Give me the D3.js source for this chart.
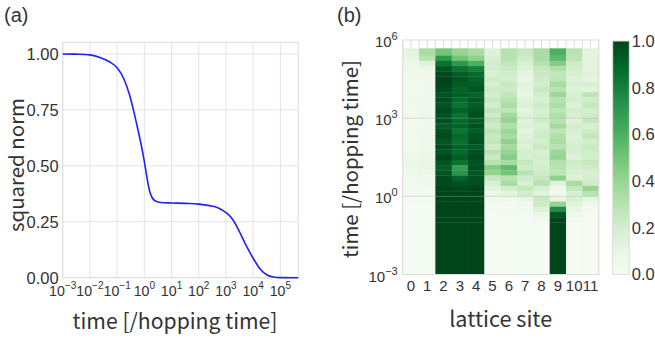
<!DOCTYPE html>
<html lang="en">
<head>
<meta charset="utf-8">
<title>Squared norm and lattice occupation</title>
<script src="https://cdn.jsdelivr.net/npm/d3@7"></script>
<style>
  body { margin: 0; background: #fff; }
  svg text { fill: #333; }
  .tk { font-family: "Liberation Sans", Arial, sans-serif; }
  .lab { font-family: "Noto Sans CJK JP", "Noto Sans", sans-serif; }
</style>
</head>
<body>
<script>
// ---- (a) squared norm vs time (time as log10 exponent) ----
var normExp = [-3, -2.5, -2, -1.6, -1.3, -1.0, -0.75, -0.55, -0.4, -0.25, -0.1, 0, 0.1, 0.2, 0.3, 0.42, 0.6, 1.0, 1.5, 2.0, 2.4, 2.7, 3.0, 3.25, 3.5, 3.75, 4.0, 4.25, 4.5, 4.75, 5.0, 5.66];
var normVal = [1.0, 0.999, 0.996, 0.983, 0.966, 0.938, 0.888, 0.82, 0.75, 0.67, 0.585, 0.52, 0.445, 0.385, 0.355, 0.342, 0.336, 0.334, 0.332, 0.329, 0.322, 0.313, 0.291, 0.26, 0.205, 0.142, 0.087, 0.04, 0.013, 0.003, 0.0005, 0];
var normTickExp = [-3, -2, -1, 0, 1, 2, 3, 4, 5];
var normTicks = [0, 0.25, 0.5, 0.75, 1.0];

// ---- (b) occupation per lattice site, rows from late to early time ----
var sites = [0, 1, 2, 3, 4, 5, 6, 7, 8, 9, 10, 11];
var rowEdgeExp = [5.68, 5.4, 5.2, 5.0, 4.8, 4.6, 4.4, 4.2, 4.0, 3.8, 3.6, 3.4, 3.2, 3.0, 2.8, 2.6, 2.4, 2.2, 2.0, 1.8, 1.6, 1.4, 1.2, 1.0, 0.8, 0.6, 0.4, 0.2, 0, -0.2, -0.4, -0.6, -0.8, -1, -3];
var occupancy = [
  [0.12,0.35,0.50,0.40,0.35,0.15,0.30,0.25,0.35,0.60,0.30,0.12],
  [0.10,0.30,0.70,0.50,0.42,0.18,0.30,0.22,0.35,0.55,0.28,0.12],
  [0.08,0.15,0.85,0.70,0.60,0.20,0.26,0.18,0.30,0.45,0.22,0.14],
  [0.06,0.08,0.95,0.85,0.80,0.20,0.24,0.15,0.25,0.32,0.20,0.12],
  [0.05,0.05,0.98,0.92,0.88,0.18,0.22,0.12,0.24,0.26,0.18,0.15],
  [0.05,0.05,1.00,0.95,0.90,0.22,0.20,0.10,0.22,0.28,0.16,0.12],
  [0.04,0.05,1.00,0.93,0.92,0.18,0.24,0.14,0.20,0.35,0.18,0.18],
  [0.05,0.06,0.98,0.90,0.95,0.22,0.22,0.12,0.24,0.30,0.15,0.14],
  [0.04,0.05,0.95,0.92,0.90,0.20,0.26,0.10,0.20,0.38,0.18,0.28],
  [0.05,0.06,0.97,0.88,0.94,0.24,0.30,0.14,0.18,0.30,0.20,0.22],
  [0.05,0.05,0.95,0.85,0.92,0.20,0.34,0.16,0.22,0.34,0.16,0.25],
  [0.04,0.06,0.98,0.90,0.95,0.26,0.28,0.12,0.18,0.28,0.20,0.20],
  [0.05,0.06,0.95,0.85,0.97,0.22,0.36,0.15,0.20,0.32,0.18,0.22],
  [0.04,0.05,0.97,0.88,0.93,0.25,0.40,0.14,0.22,0.30,0.15,0.25],
  [0.05,0.06,0.93,0.90,0.96,0.22,0.32,0.16,0.18,0.36,0.20,0.18],
  [0.05,0.05,0.96,0.84,0.92,0.28,0.38,0.12,0.20,0.28,0.18,0.22],
  [0.04,0.06,0.98,0.88,0.95,0.24,0.35,0.15,0.22,0.32,0.16,0.26],
  [0.05,0.07,0.94,0.86,0.97,0.26,0.42,0.18,0.20,0.34,0.18,0.20],
  [0.05,0.06,0.97,0.90,0.93,0.22,0.36,0.16,0.24,0.30,0.20,0.24],
  [0.06,0.08,0.95,0.88,0.96,0.30,0.40,0.20,0.18,0.38,0.18,0.22],
  [0.06,0.08,1.00,0.92,0.98,0.24,0.45,0.18,0.20,0.40,0.16,0.20],
  [0.07,0.10,0.95,0.85,0.95,0.30,0.35,0.25,0.18,0.32,0.22,0.25],
  [0.08,0.10,0.92,0.68,0.97,0.45,0.55,0.22,0.20,0.30,0.20,0.22],
  [0.06,0.08,0.95,0.72,0.94,0.40,0.50,0.30,0.22,0.28,0.18,0.18],
  [0.05,0.06,0.98,0.90,0.96,0.25,0.30,0.22,0.25,0.42,0.16,0.20],
  [0.04,0.05,0.98,0.95,0.97,0.18,0.35,0.18,0.30,0.15,0.35,0.22],
  [0.03,0.04,1.00,0.98,1.00,0.12,0.20,0.25,0.18,0.06,0.25,0.40],
  [0.03,0.03,1.00,1.00,1.00,0.08,0.12,0.20,0.14,0.05,0.18,0.30],
  [0.03,0.03,1.00,1.00,1.00,0.05,0.06,0.10,0.24,0.10,0.18,0.12],
  [0.02,0.02,1.00,1.00,1.00,0.04,0.04,0.06,0.22,0.40,0.14,0.06],
  [0.02,0.02,1.00,1.00,1.00,0.03,0.03,0.04,0.16,0.75,0.10,0.04],
  [0.02,0.02,1.00,1.00,1.00,0.02,0.03,0.03,0.08,0.95,0.06,0.03],
  [0.02,0.02,1.00,1.00,1.00,0.02,0.02,0.02,0.04,1.00,0.04,0.02],
  [0.02,0.02,1.00,1.00,1.00,0.02,0.02,0.02,0.02,1.00,0.02,0.02]
];
var heatTickExp = [-3, 0, 3, 6];
var cbarTicks = [0, 0.2, 0.4, 0.6, 0.8, 1.0];

var w = 655, h = 339;
var svg = d3.select("body").append("svg").attr("width", w).attr("height", h);

function pow10(e) { return Math.pow(10, e); }
function supLabel(sel, e, supSize) {
  sel.append("tspan").text("10");
  sel.append("tspan").attr("dy", -7).attr("font-size", supSize || "11px")
    .text(String(e).replace("-", "\u2212"));
}
// scale a label's font so that it spans the wanted width
function fitWidth(sel, target) {
  var fs = 20;
  sel.attr("font-size", fs + "px");
  var len = sel.node().getComputedTextLength();
  sel.attr("font-size", (fs * target / len) + "px");
  return sel;
}

// ================= panel (a) =================
var ax = { l: 62.7, r: 298.3, t: 42.3, b: 277.7 };
var xA = d3.scaleLog().domain([1e-3, pow10(5.66)]).range([ax.l, ax.r]);
var yA = d3.scaleLinear().domain([0, 1.052]).range([ax.b, ax.t]);
var gA = svg.append("g");

gA.selectAll("line.vg").data(normTickExp).enter().append("line")
  .attr("x1", function(d) { return xA(pow10(d)); })
  .attr("x2", function(d) { return xA(pow10(d)); })
  .attr("y1", ax.t).attr("y2", ax.b)
  .attr("stroke", "#e3e3e3").attr("stroke-width", 1);
gA.selectAll("line.hg").data(normTicks).enter().append("line")
  .attr("x1", ax.l).attr("x2", ax.r)
  .attr("y1", function(d) { return yA(d); })
  .attr("y2", function(d) { return yA(d); })
  .attr("stroke", "#e3e3e3").attr("stroke-width", 1);
gA.append("rect").attr("x", ax.l).attr("y", ax.t)
  .attr("width", ax.r - ax.l).attr("height", ax.b - ax.t)
  .attr("fill", "none").attr("stroke", "#dcdcdc");

var line = d3.line()
  .x(function(d, i) { return xA(pow10(normExp[i])); })
  .y(function(d) { return yA(d); })
  .curve(d3.curveMonotoneX);
gA.append("path").datum(normVal).attr("d", line)
  .attr("fill", "none").attr("stroke", "#1f1fff").attr("stroke-width", 1.6);

// y tick labels
gA.selectAll("text.yt").data(normTicks).enter().append("text")
  .attr("class", "tk").attr("font-size", "16.5px")
  .attr("x", ax.l - 4).attr("y", function(d) { return yA(d); })
  .attr("dy", "0.36em").attr("text-anchor", "end")
  .text(d3.format(".2f"));
// x tick labels 10^n (packed tightly, as in the original)
gA.selectAll("text.xt").data(normTickExp).enter().append("text")
  .attr("class", "tk").attr("font-size", "14.2px").attr("text-anchor", "middle")
  .attr("x", function(d) { return xA(pow10(d)); }).attr("y", ax.b + 18.5)
  .each(function(d) { supLabel(d3.select(this), d, "10px"); });

var yLabA = gA.append("text").attr("class", "lab")
  .attr("text-anchor", "middle")
  .attr("transform", "translate(17,165) rotate(-90)")
  .attr("dy", "0.35em").text("squared norm");
fitWidth(yLabA, 134);
var xLabA = gA.append("text").attr("class", "lab")
  .attr("text-anchor", "middle").attr("x", 175).attr("y", 329)
  .text("time [/hopping time]");
fitWidth(xLabA, 205);
gA.append("text").attr("class", "tk").attr("font-size", "20px")
  .attr("x", 4).attr("y", 22).text("(a)");

// ================= panel (b) =================
var bx = { l: 402.7, r: 598.7, t: 40, b: 274.5 };
var xB = d3.scaleBand().domain(sites).range([bx.l, bx.r]);
var yB = d3.scaleLog().domain([1e-3, 1e6]).range([bx.b, bx.t]);
var gB = svg.append("g");

// faint grid at column centres and edges
var halfCols = d3.range(0, sites.length * 2 + 1).map(function(i) { return i / 2; });
gB.selectAll("line.vg").data(halfCols).enter().append("line")
  .attr("x1", function(d) { return bx.l + d * xB.bandwidth(); })
  .attr("x2", function(d) { return bx.l + d * xB.bandwidth(); })
  .attr("y1", bx.t).attr("y2", bx.b)
  .attr("stroke", "#dedede");

var cells = [];
occupancy.forEach(function(row, i) {
  row.forEach(function(v, j) {
    cells.push({ site: sites[j], hi: rowEdgeExp[i], lo: rowEdgeExp[i + 1], v: v });
  });
});
gB.selectAll("rect.cell").data(cells).enter().append("rect")
  .attr("x", function(d) { return xB(d.site); })
  .attr("width", xB.bandwidth() + 0.3)
  .attr("y", function(d) { return yB(pow10(d.hi)); })
  .attr("height", function(d) { return yB(pow10(d.lo)) - yB(pow10(d.hi)) + 0.3; })
  .attr("fill", function(d) { return d3.interpolateGreens(d.v); });

gB.selectAll("line.hg").data([0, 3]).enter().append("line")
  .attr("x1", bx.l).attr("x2", bx.r)
  .attr("y1", function(d) { return yB(pow10(d)); })
  .attr("y2", function(d) { return yB(pow10(d)); })
  .attr("stroke", "#999").attr("stroke-opacity", 0.6)
  .attr("stroke-dasharray", "1,1");
gB.append("rect").attr("x", bx.l).attr("y", bx.t)
  .attr("width", bx.r - bx.l).attr("height", bx.b - bx.t)
  .attr("fill", "none").attr("stroke", "#dcdcdc");

gB.selectAll("text.xt").data(sites).enter().append("text")
  .attr("class", "tk").attr("font-size", "15px").attr("text-anchor", "middle")
  .attr("x", function(d) { return xB(d) + xB.bandwidth() / 2; })
  .attr("y", 291).text(function(d) { return d; });
gB.selectAll("text.yt").data(heatTickExp).enter().append("text")
  .attr("class", "tk").attr("font-size", "15px").attr("text-anchor", "end")
  .attr("x", bx.l - 5).attr("y", function(d) { return yB(pow10(d)) + 7; })
  .each(function(d) { supLabel(d3.select(this), d); });

var yLabB = gB.append("text").attr("class", "lab")
  .attr("text-anchor", "middle")
  .attr("transform", "translate(351,159) rotate(-90)")
  .attr("dy", "0.35em").text("time [/hopping time]");
fitWidth(yLabB, 198);
var xLabB = gB.append("text").attr("class", "lab")
  .attr("text-anchor", "middle").attr("x", (bx.l + bx.r) / 2).attr("y", 327)
  .text("lattice site");
fitWidth(xLabB, 103);
gB.append("text").attr("class", "tk").attr("font-size", "20px")
  .attr("x", 337).attr("y", 22).text("(b)");

// colour bar
var cb = { l: 612.7, r: 629.3, t: 41, b: 274.3 };
var cScale = d3.scaleLinear().domain([0, 1]).range([cb.b, cb.t]);
var grad = svg.append("defs").append("linearGradient").attr("id", "greens")
  .attr("x1", 0).attr("y1", 1).attr("x2", 0).attr("y2", 0);
d3.range(0, 1.0001, 0.05).forEach(function(s) {
  grad.append("stop").attr("offset", s).attr("stop-color", d3.interpolateGreens(s));
});
svg.append("rect").attr("x", cb.l).attr("y", cb.t)
  .attr("width", cb.r - cb.l).attr("height", cb.b - cb.t)
  .attr("fill", "url(#greens)").attr("stroke", "#dcdcdc");
svg.selectAll("text.cb").data(cbarTicks).enter().append("text")
  .attr("class", "tk").attr("font-size", "16.5px")
  .attr("x", cb.r + 2.5).attr("y", function(d) { return cScale(d); })
  .attr("dy", "0.36em").text(d3.format(".1f"));
</script>
</body>
</html>
